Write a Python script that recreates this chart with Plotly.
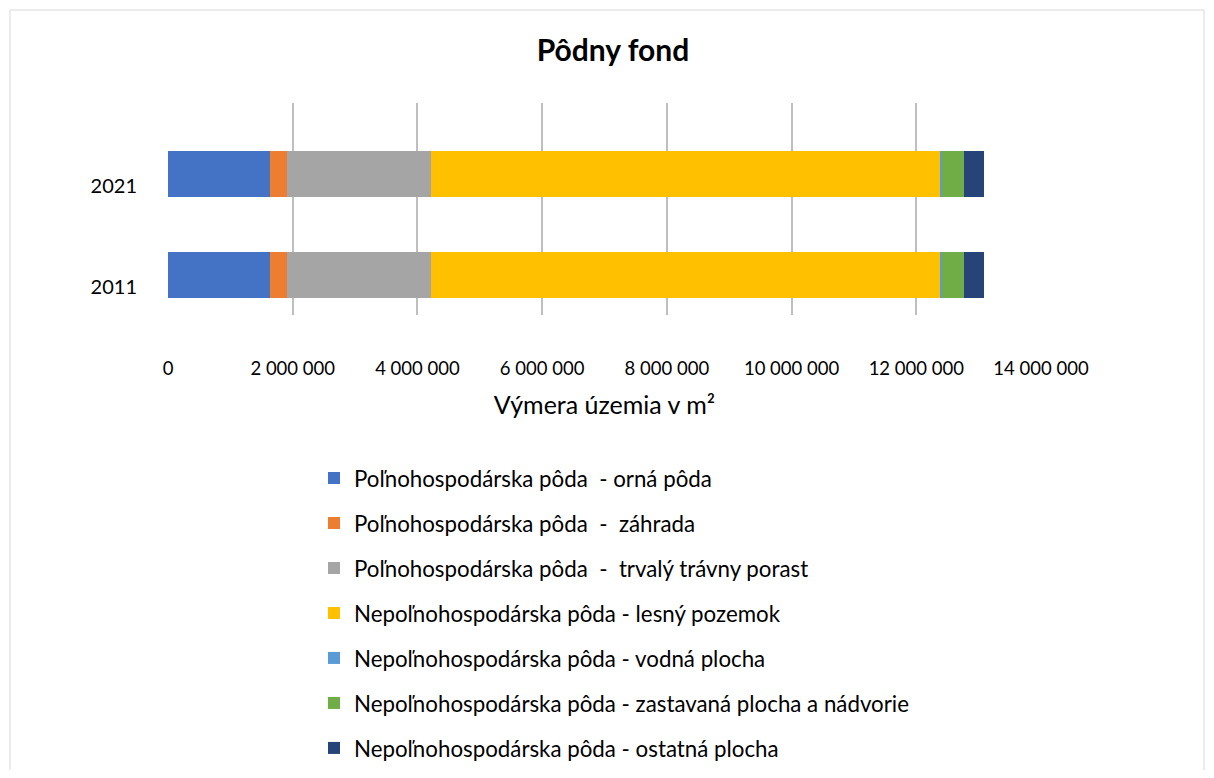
import plotly.graph_objects as go

years = ["2011", "2021"]
series_names = [
    "Poľnohospodárska pôda  - orná pôda",
    "Poľnohospodárska pôda  -  záhrada",
    "Poľnohospodárska pôda  -  trvalý trávny porast",
    "Nepoľnohospodárska pôda - lesný pozemok",
    "Nepoľnohospodárska pôda - vodná plocha",
    "Nepoľnohospodárska pôda - zastavaná plocha a nádvorie",
    "Nepoľnohospodárska pôda - ostatná plocha",
]
orna = [1630000, 1630000]
zahrada = [280000, 280000]
ttp = [2310000, 2310000]
lesny = [8170000, 8170000]
vodna = [20000, 20000]
zastavana = [350000, 350000]
ostatna = [320000, 320000]
series_values = [orna, zahrada, ttp, lesny, vodna, zastavana, ostatna]
colors = ["#4472C4", "#ED7D31", "#A5A5A5", "#FFC000", "#5B9BD5", "#70AD47", "#264478"]
tick_vals = [0, 2000000, 4000000, 6000000, 8000000, 10000000, 12000000, 14000000]
tick_text = ["0", "2 000 000", "4 000 000", "6 000 000", "8 000 000", "10 000 000", "12 000 000", "14 000 000"]

FONT = "Lato"
OFF = 8  # default body margin of the html page
W, H = 1214 - 2 * OFF, 778 - 2 * OFF
ml = 168 - OFF
mr = W - (1041 - OFF)
mt = 103 - OFF
mb = H - (315 - OFF)
PW, PH = W - ml - mr, H - mt - mb


def px_x(v):
    return (v - OFF - ml) / PW


def px_y(v):
    return (H - mb - (v - OFF)) / PH


fig = go.Figure()
for i, (name, vals, col) in enumerate(zip(series_names, series_values, colors)):
    fig.add_trace(go.Bar(
        y=years, x=vals, name=name, orientation="h",
        marker=dict(color=col, line=dict(width=0)),
        width=0.45, offset=-0.11, legendgroup=f"g{i}",
        hovertemplate="%{y}: %{x}<extra>" + name + "</extra>",
    ))

fig.update_layout(
    width=W, height=H,
    barmode="stack",
    plot_bgcolor="white", paper_bgcolor="white",
    margin=dict(l=ml, r=mr, t=mt, b=mb, autoexpand=False),
    font=dict(family=FONT, color="#000000", size=18),
    title=dict(text="<b>Pôdny fond</b>", x=(613 - OFF) / W, xanchor="center",
               y=1 - (50 - OFF) / H, yanchor="middle", yref="container",
               font=dict(size=30, family=FONT, color="#000000")),
    xaxis=dict(range=[0, 14000000], tickvals=tick_vals, ticktext=tick_text,
               showgrid=True, gridcolor="#BFBFBF", gridwidth=2,
               zeroline=False, showline=False, ticks="",
               ticklabelstandoff=40, tickfont=dict(size=18.5),
               title=dict(text="Výmera územia v m²", standoff=18,
                          font=dict(size=25))),
    yaxis=dict(type="category", categoryorder="array", categoryarray=years,
               range=[-0.28, 1.82], showgrid=False, zeroline=False,
               showline=False, ticks="", ticklabelstandoff=30,
               tickfont=dict(size=20)),
    legend=dict(orientation="v", traceorder="grouped", tracegroupgap=13,
                x=px_x(314), xanchor="left",
                y=px_y(457), yanchor="top",
                font=dict(size=22.3, family=FONT), itemwidth=30,
                bgcolor="rgba(0,0,0,0)"),
    shapes=[dict(type="rect", xref="paper", yref="paper",
                 x0=px_x(10), x1=px_x(1204),
                 y0=px_y(800), y1=px_y(10),
                 line=dict(color="#D9D9D9", width=1), layer="below")],
    showlegend=True,
)
fig.write_html("out.html")
